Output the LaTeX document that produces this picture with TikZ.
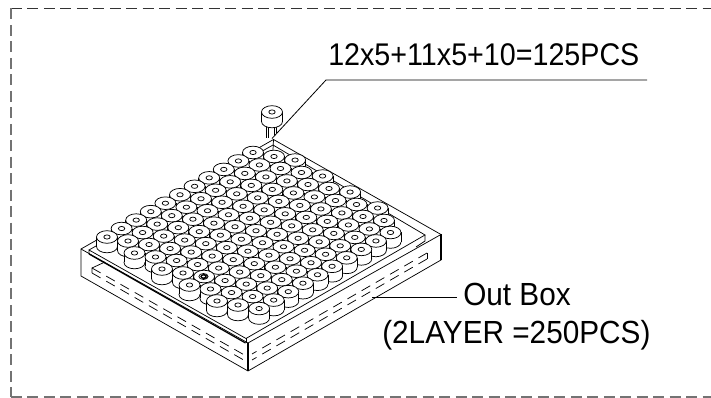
\documentclass[tikz,border=0pt]{standalone}
\usepackage{fontspec}
\setmainfont{Liberation Sans}
\newfontfamily\toptextfont[FakeStretch=0.915]{Liberation Sans}
\newfontfamily\lowtextfont[FakeStretch=0.93]{Liberation Sans}
\tikzset{
  inkline/.style={line width=0.55pt,black},
  framedash/.style={line width=0.8pt,black!80,dash pattern=on 8.25pt off 4.1pt},
  sidedash/.style={line width=0.55pt,black,dash pattern=on 7.4pt off 4.9pt},
  leader/.style={line width=0.6pt,black},
  toplabelstyle/.style={inner sep=0pt,anchor=base west,font=\toptextfont\fontsize{23.5}{26}\selectfont},
  lowlabelstyle/.style={inner sep=0pt,anchor=base west,font=\lowtextfont\fontsize{24}{27}\selectfont}
}
\newcommand{\capat}[2]{%
  \draw[inkline,fill=white] (#1,#2+9.5) ellipse [x radius=10.5,y radius=6.3];
  \fill[white] (#1-10.5,#2) rectangle (#1+10.5,#2+9.5);
  \draw[inkline] (#1-10.5,#2) -- (#1-10.5,#2+9.5) (#1+10.5,#2) -- (#1+10.5,#2+9.5);
  \draw[inkline,fill=white] (#1,#2) ellipse [x radius=10.5,y radius=6.3];
  \draw[inkline,fill=white] (#1,#2) ellipse [x radius=3.2,y radius=2.1];
}
\begin{document}
\begin{tikzpicture}[x=0.75pt,y=-0.75pt]
\useasboundingbox (0,0) rectangle (711,398);
% dashed frame
\coordinate (fc) at (11,8.5);
\coordinate (fr) at (711,8.5);
\coordinate (fb) at (11,397);
\coordinate (fbr) at (711,397);
\draw[framedash] (fc) -- (fr);
\draw[framedash,black!55] (fc) -- (fb);
\draw[framedash,black!55] (fb) -- (fbr);
% outer box
\draw[inkline,fill=white] (81,249) -- (273.5,139.5) -- (441,234.5) -- (441,260) -- (248,371) -- (81,276) -- cycle;
\draw[inkline] (81,249) -- (248,343) -- (441,234.5);
\draw[line width=0.9pt] (248,343) -- (248,371);
\draw[line width=0.9pt] (441,234.5) -- (441,260);
% inner tray
\draw[inkline] (89,250) -- (273,145) -- (425,235) -- (246,338.5) -- (89,250) -- (89,254);
\draw[line width=0.9pt] (89,254) -- (245.5,343);
\draw[inkline] (246,338.5) -- (246,343);
\draw[inkline] (425,235) -- (425,241) -- (416,247);
\draw[inkline] (273.5,139.5) -- (273,150);
% side slot, left face
\draw[inkline] (105,262) -- (92,268) -- (92,273);
\draw[sidedash] (92,268) -- (247,356.5);
\draw[sidedash] (92,273) -- (248,362.5);
% side slot, right face
\draw[inkline] (427,253) -- (427,259);
\draw[sidedash] (427,253) -- (252,354);
\draw[sidedash] (427,259) -- (252,360);
% caps, back row first
\foreach \r/\first/\last in {0/0/10,1/0/10,2/0/11,3/0/10,4/0/11,5/0/10,6/0/11,7/0/10,8/0/11,9/0/10,10/1/10}{
  \foreach \i in {\last,...,\first}{
    \pgfmathsetmacro{\k}{int(\r/2)}
    \pgfmathsetmacro{\odd}{\r-2*\k}
    \pgfmathsetmacro{\cx}{107+27.5*\k+21*\odd+14.6*\i}
    \pgfmathsetmacro{\cy}{237+16*\k+4*\odd-8.45*\i}
    \capat{\cx}{\cy}
  }
}
% the marked cap
\draw[inkline] (203.5,276.5) ellipse [x radius=4.6,y radius=3];
\draw[line width=0.9pt] (203.5,276.5) ellipse [x radius=2.4,y radius=1.6];
% lifted part with its pins
\fill[white] (265.5,125) rectangle (277,139);
\draw[inkline] (266,126) -- (266,138) (268,126) -- (268,138) (274,126) -- (274,135) (276,126) -- (276,133);
\capat{272}{112}
% labels and leaders
\node[toplabelstyle] (toplabel) at (328,66) {12x5+11x5+10=125PCS};
\node[lowlabelstyle] (boxlabel) at (463,306) {Out Box};
\node[lowlabelstyle] (layerlabel) at (382,344) {(2LAYER =250PCS)};
\coordinate (capend) at (272,138.5);
\coordinate (elbow) at (326,80);
\coordinate (topend) at (647,80);
\coordinate (boxend) at (372,297);
\coordinate (boxlabelend) at (457,297);
\draw[leader] (capend) -- (elbow) -- (topend);
\draw[leader] (boxend) -- (boxlabelend);
\end{tikzpicture}
\end{document}
